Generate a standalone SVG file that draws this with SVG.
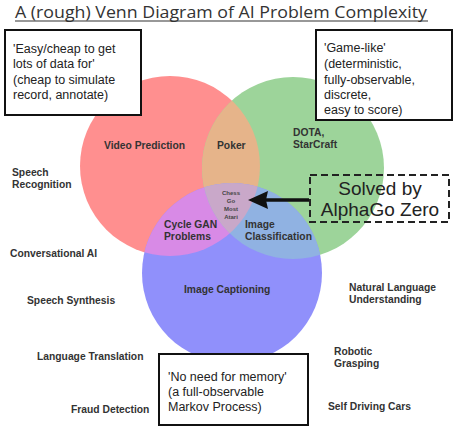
<svg xmlns="http://www.w3.org/2000/svg" width="458" height="430" viewBox="0 0 458 430">
  <style>
    .title { font-family: "Open Sans", "DejaVu Sans", sans-serif; font-size: 17px; fill: #333; }
    .note { font-family: "Liberation Sans", Arial, sans-serif; font-size: 12.5px; fill: #222; }
    .big { font-family: "Liberation Sans", Arial, sans-serif; font-size: 19px; fill: #222; }
    .lbl { font-family: "Liberation Sans", Arial, sans-serif; font-weight: 700; font-size: 10.3px; fill: #333; }
    .tiny { font-family: "Liberation Sans", Arial, sans-serif; font-weight: 700; font-size: 6px; fill: #444; text-anchor: middle; }
    .box { fill: #fff; stroke: #111; stroke-width: 2; }
    .dash { fill: none; stroke: #222; stroke-width: 2; stroke-dasharray: 7 4; }
  </style>
  <defs>
    <clipPath id="clipR"><circle cx="170" cy="166" r="90"/></clipPath>
    <clipPath id="clipG"><circle cx="293" cy="168" r="91"/></clipPath>
  </defs>

  <rect width="458" height="430" fill="#fff"/>

  <!-- title -->
  <g id="title">
    <text class="title" x="15" y="18" textLength="412" lengthAdjust="spacingAndGlyphs">A (rough) Venn Diagram of AI Problem Complexity</text>
    <line x1="15" y1="21" x2="428" y2="21" stroke="#333" stroke-width="1.2"/>
  </g>

  <!-- Venn circles and overlaps -->
  <g id="venn">
    <circle id="red" cx="170" cy="166" r="90" fill="#ff8f8f"/>
    <circle id="green" cx="293" cy="168" r="91" fill="#9dd49a"/>
    <circle id="blue" cx="232" cy="273" r="90" fill="#9090fb"/>
    <circle cx="293" cy="168" r="91" fill="#e6b48a" clip-path="url(#clipR)"/>
    <circle cx="232" cy="273" r="90" fill="#d88ae6" clip-path="url(#clipR)"/>
    <circle cx="232" cy="273" r="90" fill="#90b2e2" clip-path="url(#clipG)"/>
    <g clip-path="url(#clipR)">
      <circle cx="232" cy="273" r="90" fill="#c9a8c9" clip-path="url(#clipG)"/>
    </g>
  </g>

  <!-- note boxes -->
  <g id="box-data">
    <rect class="box" x="5" y="30" width="136" height="85"/>
    <text class="note" x="13" y="53">'Easy/cheap to get</text>
    <text class="note" x="13" y="68">lots of data for'</text>
    <text class="note" x="13" y="84">(cheap to simulate</text>
    <text class="note" x="13" y="99">record, annotate)</text>
  </g>
  <g id="box-game">
    <rect class="box" x="316" y="30" width="136" height="90"/>
    <text class="note" x="324" y="52">'Game-like'</text>
    <text class="note" x="324" y="68">(deterministic,</text>
    <text class="note" x="324" y="84">fully-observable,</text>
    <text class="note" x="324" y="99">discrete,</text>
    <text class="note" x="324" y="114">easy to score)</text>
  </g>
  <g id="box-memory">
    <rect class="box" x="159" y="354" width="149" height="71"/>
    <text class="note" x="168" y="381">'No need for memory'</text>
    <text class="note" x="168" y="396">(a full-observable</text>
    <text class="note" x="168" y="411">Markov Process)</text>
  </g>
  <g id="box-alphago">
    <rect class="dash" x="310" y="175" width="139" height="47"/>
    <text class="big" x="380" y="195" text-anchor="middle">Solved by</text>
    <text class="big" x="380" y="216" text-anchor="middle">AlphaGo Zero</text>
  </g>

  <!-- connector -->
  <g id="connectors">
    <line x1="309" y1="200" x2="263" y2="200" stroke="#111" stroke-width="3.5"/>
    <path d="M248,200 L268,191 L266,200 L268,209 z" fill="#111"/>
  </g>

  <!-- region labels -->
  <g id="labels-in">
    <text class="lbl" x="104" y="149">Video Prediction</text>
    <text class="lbl" x="217" y="149">Poker</text>
    <text class="lbl" x="293" y="136">DOTA,</text>
    <text class="lbl" x="293" y="148">StarCraft</text>
    <text class="tiny" x="231" y="195">Chess</text>
    <text class="tiny" x="231" y="203">Go</text>
    <text class="tiny" x="231" y="211">Most</text>
    <text class="tiny" x="231" y="219">Atari</text>
    <text class="lbl" x="164" y="228">Cycle GAN</text>
    <text class="lbl" x="164" y="240">Problems</text>
    <text class="lbl" x="245" y="228">Image</text>
    <text class="lbl" x="245" y="240">Classification</text>
    <text class="lbl" x="184" y="293">Image Captioning</text>
  </g>
  <g id="labels-out">
    <text class="lbl" x="12" y="176">Speech</text>
    <text class="lbl" x="12" y="188">Recognition</text>
    <text class="lbl" x="10" y="257">Conversational AI</text>
    <text class="lbl" x="27" y="304">Speech Synthesis</text>
    <text class="lbl" x="37" y="360">Language Translation</text>
    <text class="lbl" x="71" y="413">Fraud Detection</text>
    <text class="lbl" x="349" y="291">Natural Language</text>
    <text class="lbl" x="349" y="303">Understanding</text>
    <text class="lbl" x="334" y="355">Robotic</text>
    <text class="lbl" x="334" y="367">Grasping</text>
    <text class="lbl" x="328" y="410">Self Driving Cars</text>
  </g>
</svg>
